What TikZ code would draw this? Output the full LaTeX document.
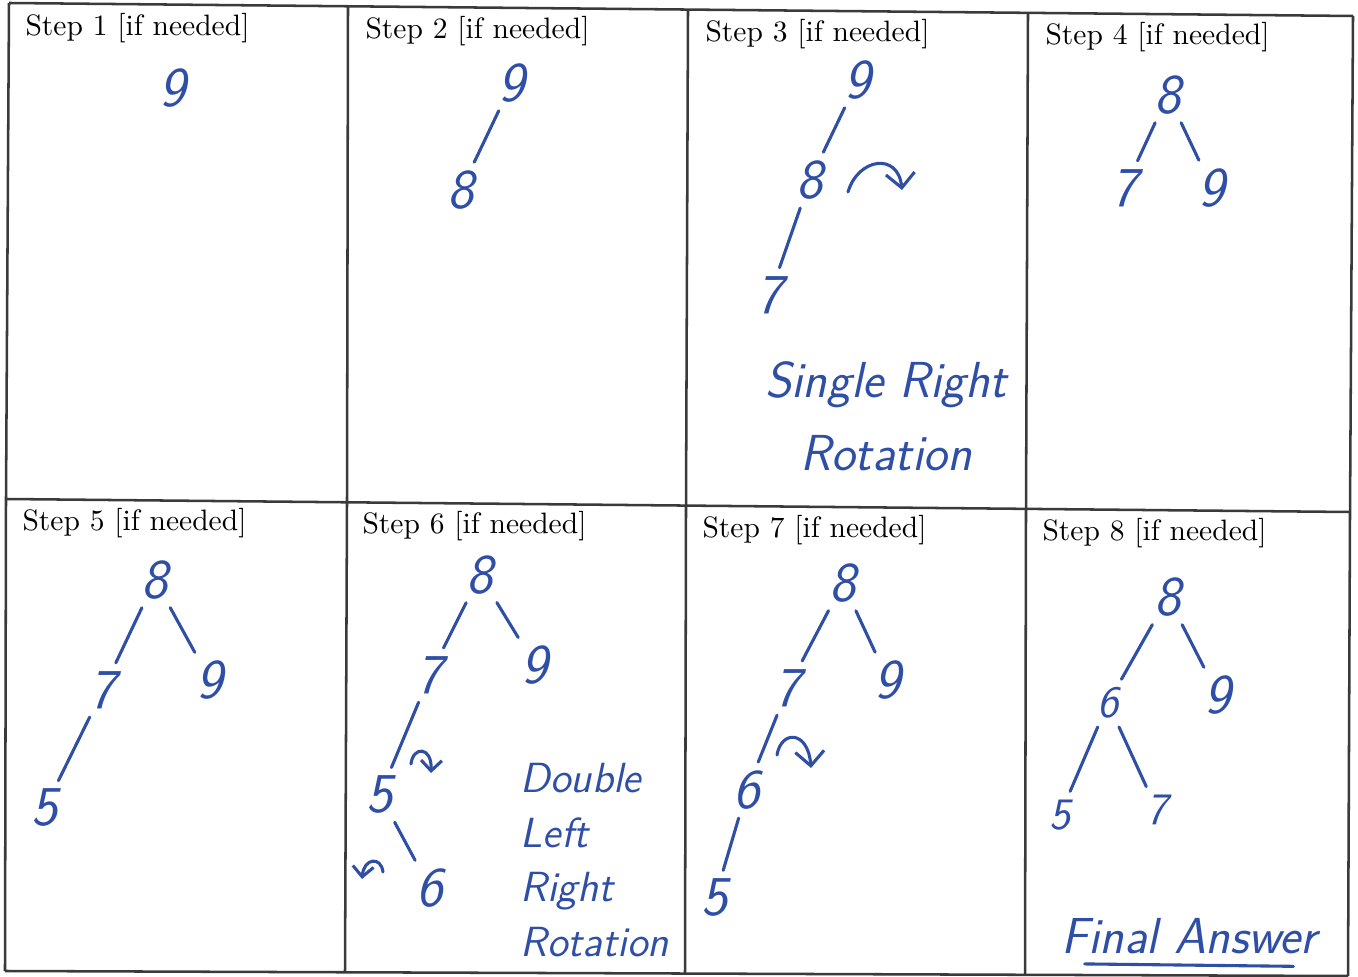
\documentclass[tikz,border=0pt]{standalone}
\usepackage{xcolor}
\usepackage{tikz}
\usetikzlibrary{arrows.meta,positioning}
\definecolor{pen}{HTML}{2F4FA6}
\definecolor{rulec}{HTML}{3A3A3A}
\tikzset{
  grd/.style={rulec,line width=0.9pt},
  hd/.style={anchor=west,inner sep=0pt,font=\fontsize{10.5}{12}\selectfont},
  nd/.style={pen,inner sep=1pt,font=\fontsize{20}{22}\selectfont\sffamily\slshape},
  sm/.style={pen,inner sep=1pt,font=\fontsize{16}{18}\selectfont\sffamily\slshape},
  ed/.style={pen,line width=1.1pt,line cap=round,shorten <=2pt,shorten >=2pt},
  rot/.style={pen,line width=1.1pt,line cap=round,-{Straight Barb[length=1.8mm,width=3.6mm]}},
  note/.style={pen,inner sep=0pt,font=\fontsize{18}{26}\selectfont\sffamily\slshape}
}

\begin{document}
\begin{tikzpicture}[x=0.125mm,y=-0.125mm]
\useasboundingbox (0,0) rectangle (1358,977);
% sheet grid (scan is a bit tilted)
\foreach \i/\tx/\ty/\mx/\my/\bx/\by in {0/9/3/6/499/5/971,1/348/6/347/502/345/972,
  2/688/10/686/506/685/973,3/1028/13/1026/509/1025/974,4/1353/16/1350/512/1348/976}{
  \coordinate (t\i) at (\tx,\ty);
  \coordinate (m\i) at (\mx,\my);
  \coordinate (b\i) at (\bx,\by);
  \draw[grd] (t\i)--(m\i)--(b\i);
}
\draw[grd] (t0)--(t4) (m0)--(m4) (b0)--(b4);
% headers
\foreach \c in {0,...,3}{
  \pgfmathtruncatemacro{\na}{\c+1}
  \pgfmathtruncatemacro{\nb}{\c+5}
  \node[hd] (hd\na) at ({25+340*\c},{28+3*\c}) {Step \na\ [if needed]};
  \node[hd] (hd\nb) at ({22+340*\c},{523+3.5*\c}) {Step \nb\ [if needed]};
}
% step 1
\node[nd] (s1a) at (173,88) {9};
% step 2
\node[nd] (s2a) at (512,83) {9};
\node[nd] (s2b) at (461,190) {8};
\draw[ed] (s2a)--(s2b);
% step 3
\node[nd] (s3a) at (858,80) {9};
\node[nd] (s3b) at (810,180) {8};
\node[nd] (s3c) at (770,295) {7};
\draw[ed] (s3a)--(s3b);
\draw[ed] (s3b)--(s3c);
\coordinate (r3a) at (848,192);
\coordinate (r3b) at (902,190);
\draw[rot] (r3a) .. controls (858,158) and (898,152) .. (r3b);
\node[note,align=center] (n3) at (886,416) {Single Right\\Rotation};
% step 4
\node[nd] (s4a) at (1168,95) {8};
\node[nd] (s4b) at (1125,188) {7};
\node[nd] (s4c) at (1212,188) {9};
\draw[ed] (s4a)--(s4b);
\draw[ed] (s4a)--(s4c);
% step 5
\node[nd] (s5a) at (155,580) {8};
\node[nd] (s5b) at (103,690) {7};
\node[nd] (s5c) at (210,680) {9};
\node[nd] (s5d) at (45,808) {5};
\draw[ed] (s5a)--(s5b);
\draw[ed] (s5a)--(s5c);
\draw[ed] (s5b)--(s5d);
% step 6
\node[nd] (s6a) at (480,575) {8};
\node[nd] (s6b) at (430,675) {7};
\node[nd] (s6c) at (535,665) {9};
\node[nd] (s6d) at (380,795) {5};
\node[nd] (s6e) at (430,888) {6};
\draw[ed] (s6a)--(s6b);
\draw[ed] (s6a)--(s6c);
\draw[ed] (s6b)--(s6d);
\draw[ed] (s6d)--(s6e);
\coordinate (r6a) at (411,764);
\coordinate (r6b) at (431,773);
\draw[rot,-{Straight Barb[length=1.3mm,width=2.6mm]}] (r6a) .. controls (413,746) and (432,746) .. (r6b);
\coordinate (r6c) at (383,872);
\coordinate (r6d) at (362,879);
\draw[rot,-{Straight Barb[length=1.3mm,width=2.6mm]}] (r6c) .. controls (381,856) and (364,858) .. (r6d);
\node[note,align=left,anchor=west,font=\fontsize{15}{19.5}\selectfont\sffamily\slshape] (n6) at (520,860) {Double\\Left\\Right\\Rotation};
% step 7
\node[nd] (s7a) at (843,583) {8};
\node[nd] (s7b) at (788,688) {7};
\node[nd] (s7c) at (888,680) {9};
\node[nd] (s7d) at (747,790) {6};
\node[nd] (s7e) at (715,898) {5};
\draw[ed] (s7a)--(s7b);
\draw[ed] (s7a)--(s7c);
\draw[ed] (s7b)--(s7d);
\draw[ed] (s7d)--(s7e);
\coordinate (r7a) at (777,755);
\coordinate (r7b) at (811,768);
\draw[rot] (r7a) .. controls (781,730) and (808,730) .. (r7b);
% step 8
\node[nd] (s8a) at (1168,597) {8};
\node[sm] (s8b) at (1108,703) {6};
\node[nd] (s8c) at (1218,695) {9};
\node[sm] (s8d) at (1060,815) {5};
\node[sm] (s8e) at (1157,810) {7};
\draw[ed] (s8a)--(s8b);
\draw[ed] (s8a)--(s8c);
\draw[ed] (s8b)--(s8d);
\draw[ed] (s8b)--(s8e);
\node[note] (fa) at (1189,936) {Final Answer};
\draw[pen,line width=1.1pt,line cap=round] ([xshift=3mm,yshift=-1.2mm]fa.south west)--([xshift=-3mm,yshift=-1.5mm]fa.south east);
\end{tikzpicture}
\end{document}
